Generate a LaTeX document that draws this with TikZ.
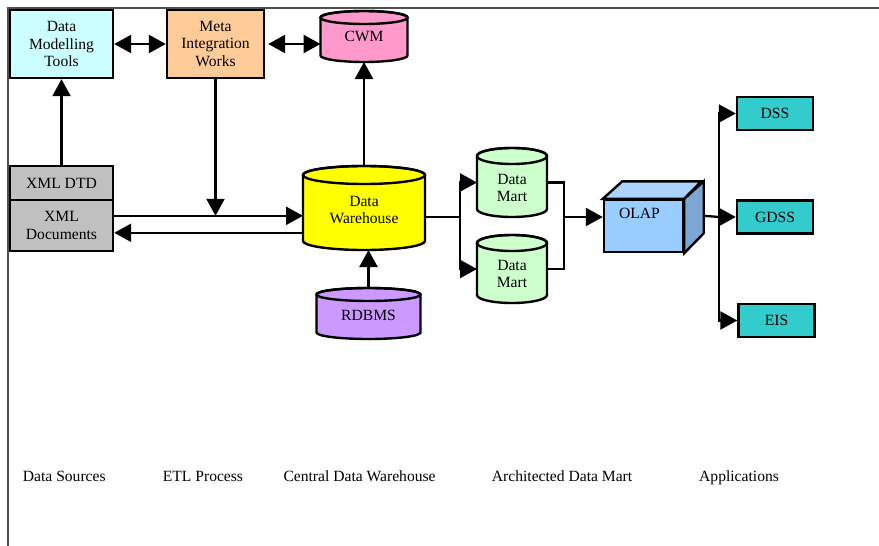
\documentclass[tikz,border=0pt]{standalone}
\usepackage{fontspec}
\setmainfont{Liberation Serif}
\usetikzlibrary{arrows.meta,calc}
\definecolor{cDMT}{HTML}{CCFFFF}
\definecolor{cMIW}{HTML}{FFCC99}
\definecolor{cCWM}{HTML}{FF99CC}
\definecolor{cXML}{HTML}{C0C0C0}
\definecolor{cDW}{HTML}{FFFF00}
\definecolor{cRDB}{HTML}{CC99FF}
\definecolor{cDM}{HTML}{CCFFCC}
\definecolor{cOLAP}{HTML}{99CCFF}
\definecolor{cOLAPtop}{HTML}{AAD4FF}
\definecolor{cOLAPside}{HTML}{7DA7D2}
\definecolor{cAPP}{HTML}{33CCCC}
\definecolor{cFrame}{HTML}{505050}
\newcommand\fsz{\fontsize{15.6pt}{17.5pt}\selectfont}
\tikzset{
  box/.style={draw=black, line width=2.4pt, inner sep=0pt, align=center, font=\fsz},
  conn/.style={draw=black, line width=2.3pt},
  arr/.style={conn, -{Triangle[length=17pt,width=18pt]}},
  darr/.style={conn, {Triangle[length=17pt,width=18pt]}-{Triangle[length=17pt,width=18pt]}},
  lbl/.style={font=\fsz, inner sep=0pt, anchor=base west},
  cyltext/.style={font=\fsz, align=center, inner sep=0pt},
}
% #1 name, #2 cx, #3 ytop, #4 width, #5 height, #6 ry, #7 fill, #8 text, #9 text y offset
\newcommand\cylnode[9]{%
  \node[minimum width=#4pt, minimum height=#5pt, inner sep=0pt, outer sep=0pt] (#1) at (#2,{-#3-#5/2}) {};
  \filldraw[fill=#7, draw=black, line width=2.4pt]
    ($(#1.north west)+(0,-#6)$) -- ($(#1.south west)+(0,#6)$)
    arc[start angle=180,end angle=360,x radius=#4/2,y radius=#6]
    -- ($(#1.north east)+(0,-#6)$)
    arc[start angle=0,end angle=180,x radius=#4/2,y radius=#6] -- cycle;
  \draw[line width=2.4pt] ($(#1.north)+(0,-#6)$) ellipse[x radius=#4/2, y radius=#6];
  \node[cyltext] (#1-t) at ($(#1.center)+(0,#9)$) {#8};
}
\begin{document}
\begin{tikzpicture}[x=1pt,y=1pt]
\useasboundingbox (0,0) rectangle (879,-546);
% frame
\draw[cFrame, line width=2pt] (8,-546) -- (8,-8) -- (879,-8);

% boxes
\node[box, fill=cDMT, minimum width=103pt, minimum height=68pt] (dmt) at (61.5,-44) {Data\\Modelling\\Tools};
\node[box, fill=cMIW, minimum width=97pt, minimum height=68pt] (miw) at (215.5,-44) {Meta\\Integration\\Works};
\node[box, fill=cXML, minimum width=103pt, minimum height=34pt] (dtd) at (61.5,-183) {XML DTD};
\node[box, fill=cXML, minimum width=103pt, minimum height=51pt] (docs) at (61.5,-225.5) {XML\\Documents};

% cylinders
\cylnode{cwm}{364}{11}{87}{51}{6.5}{cCWM}{CWM}{0}
\cylnode{dw}{364}{166}{122}{84}{9}{cDW}{Data\\Warehouse}{-2}
\cylnode{rdbms}{368.5}{288}{104}{51}{6.5}{cRDB}{RDBMS}{-1.5}
\cylnode{dm1}{512}{148}{70}{69}{8}{cDM}{Data\\Mart}{-5.5}
\cylnode{dm2}{512}{235}{70}{68}{8}{cDM}{Data\\Mart}{-5}

% OLAP cube
\node[draw=black, line width=2.4pt, fill=cOLAP, minimum width=79pt, minimum height=52pt, inner sep=0pt] (olap) at (643.5,-226) {};
\filldraw[fill=cOLAPtop, draw=black, line width=2.4pt] (olap.north west) -- ++(19.5,17.5) -- ++(79,0) -- (olap.north east) -- cycle;
\filldraw[fill=cOLAPside, draw=black, line width=2.4pt] (olap.north east) -- ++(19.5,17.5) -- ++(0,-52) -- (olap.south east) -- cycle;
\node[cyltext] (olap-t) at ($(olap.center)+(-4,13)$) {OLAP};

% applications
\node[box, fill=cAPP, minimum width=76pt, minimum height=33pt] (dss) at (775,-113.5) {DSS};
\node[box, fill=cAPP, minimum width=76pt, minimum height=33pt] (gdss) at (775,-217) {GDSS};
\node[box, fill=cAPP, minimum width=76pt, minimum height=33pt] (eis) at (776.5,-320.5) {EIS};

% connector helpers
\coordinate (p1) at ($(docs.north east)+(0,-17)$);
\coordinate (p2) at ($(docs.north east)+(0,-34)$);
\coordinate (j1) at (460,-217);
\coordinate (j2) at (564,-217);
\coordinate (j3) at (719,-217);
\coordinate (olapr) at ($(olap.north east)+(19.5,-17)$);

% connectors
\draw[darr] (dmt.east) -- (miw.west);
\draw[darr] ($(miw.east)+(3,0)$) -- (miw.east -| cwm.west);
\draw[arr] (dtd.north) -- (dmt.south);
\draw[arr] (miw.south) -- (miw.south |- p1);
\draw[arr] (p1) -- (p1 -| dw.west);
\draw[arr] (p2 -| dw.west) -- (p2);
\draw[arr] (dw.north) -- (cwm.south);
\draw[arr] (rdbms.north) -- (rdbms.north |- dw.south);
\draw[conn] (j1 -| dw.east) -- (j1);
\draw[arr] (j1) |- (dm1.west);
\draw[arr] (j1) |- (dm2.west);
\draw[conn] (dm1.east) -| (j2 |- dm2.east) -- (dm2.east);
\draw[arr] (j2) -- (j2 -| olap.west);
\draw[conn] (olapr) -- (j3);
\draw[arr] (j3) |- (dss.west);
\draw[arr] (j3) -- (gdss.west);
\draw[arr] (j3) |- (eis.west);

% bottom labels
\node[lbl] (l1) at (22.7,-481) {Data Sources};
\node[lbl] (l2) at (162.7,-481) {ETL Process};
\node[lbl] (l3) at (283.3,-481) {Central Data Warehouse};
\node[lbl] (l4) at (491.7,-481) {Architected Data Mart};
\node[lbl] (l5) at (699,-481) {Applications};
\end{tikzpicture}
\end{document}
